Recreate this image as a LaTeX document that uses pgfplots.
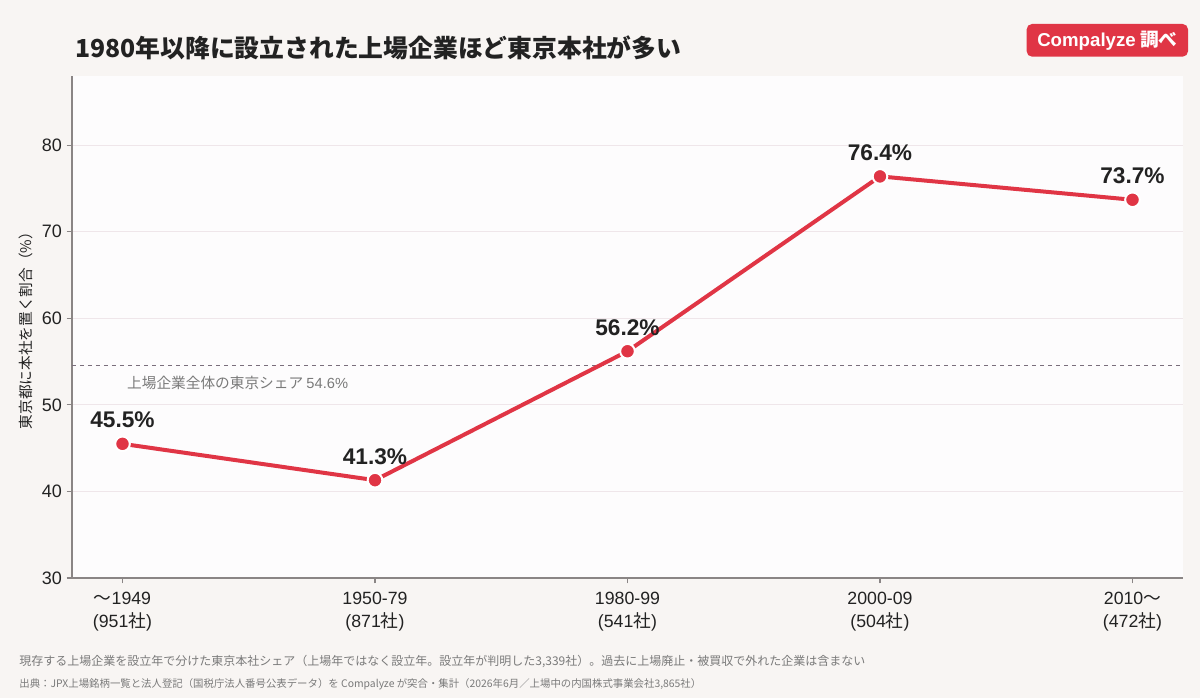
\documentclass[border=0pt]{standalone}
\usepackage{fontspec}
\setmainfont{Noto Sans CJK JP}
\newfontfamily\lat{Liberation Sans}
\usepackage{pgfplots}
\pgfplotsset{compat=1.18}
\definecolor{bgc}{HTML}{F8F5F3}
\definecolor{plotbg}{HTML}{FDFCFD}
\definecolor{redc}{HTML}{E03545}
\definecolor{gridc}{HTML}{EFE6EA}
\definecolor{axisc}{HTML}{8A8585}
\definecolor{txt}{HTML}{222222}
\definecolor{basec}{HTML}{7A6E7C}
\definecolor{foot}{HTML}{7A7A7A}
\begin{document}
\begin{tikzpicture}[x=1pt,y=1pt]
\fill[bgc] (0,0) rectangle (900,523.5);
\useasboundingbox (0,0) rectangle (900,523.5);
\begin{axis}[
  at={(54pt,90pt)}, anchor=south west,
  scale only axis, width=833.25pt, height=376.5pt,
  xmin=-0.2, xmax=4.2, ymin=30, ymax=88,
  axis background/.style={fill=plotbg},
  axis x line*=bottom, axis y line*=left,
  axis line style={axisc, line width=0.8pt},
  xtick={0,1,2,3,4},
  xticklabels={{〜{\lat 1949}\\{\lat (951}社{\lat )}},{{\lat 1950-79}\\{\lat (871}社{\lat )}},{{\lat 1980-99}\\{\lat (541}社{\lat )}},{{\lat 2000-09}\\{\lat (504}社{\lat )}},{{\lat 2010}〜\\{\lat (472}社{\lat )}}},
  xticklabel style={align=center, font=\fontsize{13.3}{17}\selectfont, text=txt, yshift=-3pt},
  ytick={30,40,50,60,70,80},
  yticklabel style={font=\lat\fontsize{13.5}{15}\selectfont, text=txt},
  /pgf/number format/assume math mode=true,
  tick style={axisc, line width=0.8pt},
  tick align=outside, major tick length=4pt,
  ymajorgrids, grid style={gridc, line width=0.8pt},
  ylabel={東京都に本社を置く割合（\%）},
  ylabel style={font=\fontsize{11}{13}\selectfont, text=txt, at={(-26pt,0.5)}, anchor=south},
  clip=false,
]
\addplot[basec, dashed, line width=0.8pt, forget plot] coordinates {(-0.2,54.6) (4.2,54.6)};
\node[anchor=west, font=\fontsize{11}{12}\selectfont, text=foot] at (axis cs:0.0,52.5) {上場企業全体の東京シェア {\lat 54.6\%}};
\addplot[redc, line width=3pt, mark=*, mark size=5.5pt, mark options={fill=redc, draw=white, line width=1.5pt},
  nodes near coords={\pgfmathprintnumber[fixed,precision=1,fixed zerofill]{\pgfplotspointmeta}\%},
  point meta=explicit,
  nodes near coords style={font=\lat\fontsize{17}{19}\bfseries, text=txt, anchor=base, yshift=12pt},
] coordinates {(0,45.5)[45.5] (1,41.3)[41.3] (2,56.2)[56.2] (3,76.4)[76.4] (4,73.7)[73.7]};
\end{axis}
\node[anchor=west, font=\fontsize{18.6}{20}\bfseries, text=txt] at (53,487.5) {1980年以降に設立された上場企業ほど東京本社が多い};
\fill[redc, rounded corners=4pt] (770,481) rectangle (891,505.5);
\node[font=\fontsize{14}{15}\bfseries, text=white] at (830.5,493.2) {{\lat\bfseries Compalyze} 調べ};
\node[anchor=west, font=\fontsize{9}{11}\selectfont, text=foot] at (11,27) {現存する上場企業を設立年で分けた東京本社シェア（上場年ではなく設立年。設立年が判明した3,339社）。過去に上場廃止・被買収で外れた企業は含まない};
\node[anchor=west, font=\fontsize{7.8}{9}\selectfont, text=foot] at (11,10.5) {出典：JPX上場銘柄一覧と法人登記（国税庁法人番号公表データ）を Compalyze が突合・集計（2026年6月／上場中の内国株式事業会社3,865社）};
\end{tikzpicture}
\end{document}
